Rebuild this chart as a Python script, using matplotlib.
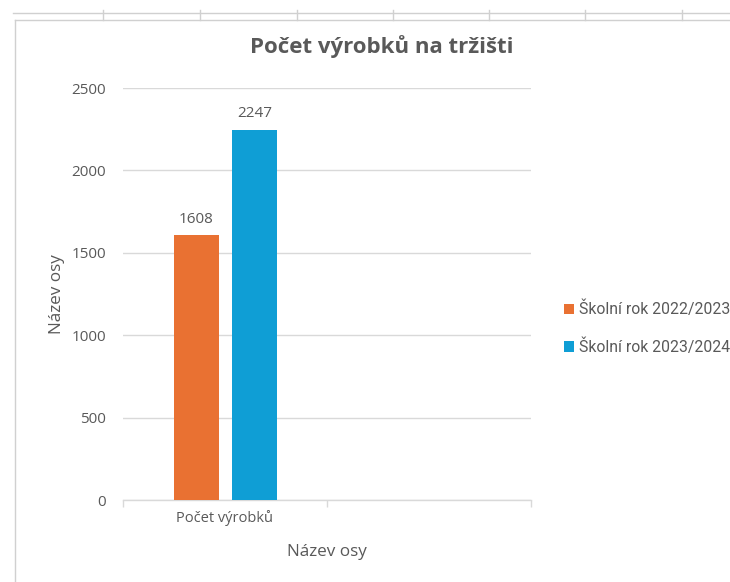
import matplotlib
matplotlib.use("Agg")
import matplotlib.pyplot as plt
from matplotlib.lines import Line2D
import numpy as np

categories = ["Počet výrobků", ""]
series_names = ["Školní rok 2022/2023", "Školní rok 2023/2024"]
values_2022 = [1608, None]
values_2023 = [2247, None]
yticks = [0, 500, 1000, 1500, 2000, 2500]
title = "Počet výrobků na tržišti"
axis_title = "Název osy"

colors = ["#E97132", "#0F9ED5"]
text_color = "#595959"
grid_color = "#D9D9D9"

plt.rcParams['font.family'] = ['Open Sans', 'DejaVu Sans']

W, H = 730, 582
fig = plt.figure(figsize=(W / 100, H / 100), dpi=100)
ax = fig.add_axes([123 / W, 1 - 500 / H, (531 - 123) / W, (500 - 88) / H])

x = np.arange(len(categories))
width = 0.22
offsets = [-0.14, 0.145]
for vals, off, col, name in zip([values_2022, values_2023], offsets, colors, series_names):
    xs = [xi + off for xi, v in zip(x, vals) if v is not None]
    vs = [v for v in vals if v is not None]
    bars = ax.bar(xs, vs, width=width, color=col, label=name, zorder=3)
    for b, v in zip(bars, vs):
        ax.annotate(str(v), (b.get_x() + b.get_width() / 2, v), xytext=(0, 6),
                    textcoords="offset points", ha="center", va="bottom",
                    fontsize=11, color=text_color)

ax.set_xlim(-0.5, len(categories) - 0.5)
ax.set_ylim(0, 2500)
ax.set_yticks(yticks)
ax.set_yticklabels([str(t) for t in yticks], fontsize=11, color=text_color)
ax.yaxis.grid(True, color=grid_color, linewidth=1, zorder=0)
ax.tick_params(axis='y', length=0, pad=12)

ax.set_xticks(x)
ax.set_xticklabels(categories, fontsize=10.5, color=text_color)
ax.tick_params(axis='x', length=0, pad=7)
# category boundary ticks
ax.set_xticks(np.arange(len(categories) + 1) - 0.5, minor=True)
ax.tick_params(axis='x', which='minor', length=5, color=grid_color, width=1)

for s in ['top', 'right', 'left']:
    ax.spines[s].set_visible(False)
ax.spines['bottom'].set_color(grid_color)
ax.spines['bottom'].set_linewidth(1)

ax.set_ylabel(axis_title, fontsize=12.3, color=text_color, labelpad=5)
ax.set_xlabel(axis_title, fontsize=12.3, color=text_color, labelpad=13)

fig.text(382 / W, 1 - 47 / H, title, ha="center", va="center",
         fontsize=16, fontweight="bold", color=text_color)

leg = fig.legend(loc="center left", bbox_to_anchor=(564 / W, 1 - 328 / H),
                 frameon=False, prop={'family': ['Roboto', 'DejaVu Sans'], 'size': 11.3},
                 labelcolor=text_color, borderpad=0, borderaxespad=0,
                 handlelength=0.65, handleheight=0.65, handletextpad=0.3,
                 labelspacing=1.35)

# spreadsheet frame remnants
def fl(x0, y0, x1, y1, c="#D0D0D0", lw=1):
    fig.add_artist(Line2D([x0 / W, x1 / W], [1 - y0 / H, 1 - y1 / H],
                          color=c, linewidth=lw, transform=fig.transFigure))

fl(13, 13, W, 13)
fl(15, 20, W, 20)
for xv in [103, 200, 297, 393, 489, 585, 682]:
    fl(xv, 10, xv, 20)
fl(15, 20, 15, H)

fig.savefig("out.png", dpi=100, facecolor="white")
